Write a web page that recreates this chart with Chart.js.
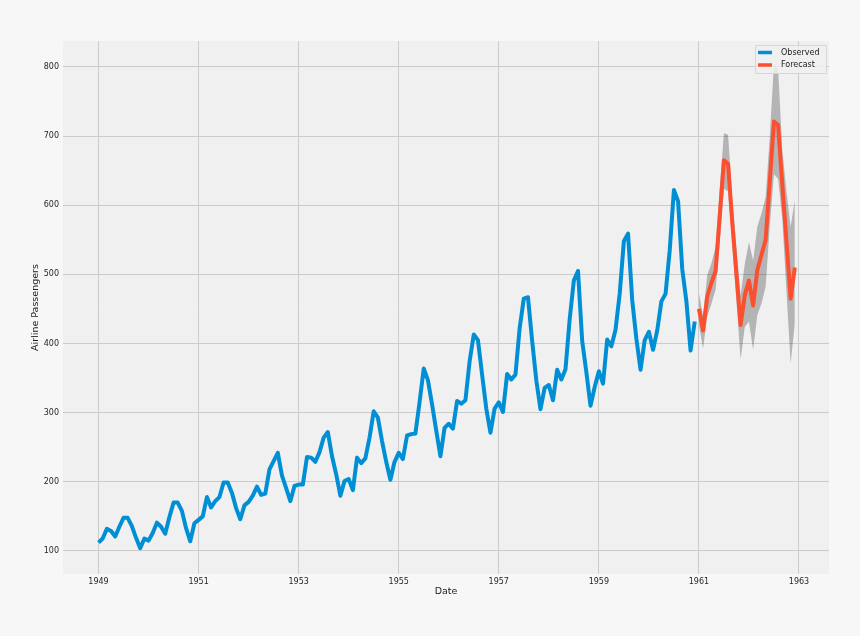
<!DOCTYPE html>
<html>
<head>
<meta charset="utf-8">
<script src="https://cdn.jsdelivr.net/npm/chart.js@4/dist/chart.umd.min.js"></script>
<style>
  html, body { margin: 0; padding: 0; background: #f7f7f7; }
  canvas { display: block; }
</style>
</head>
<body>
<canvas id="c" width="860" height="636"></canvas>
<script>
// ---- data ----
const observedStart = 1949; // January 1949, monthly
const observed = [
  112,118,132,129,121,135,148,148,136,119,104,118,
  115,126,141,135,125,149,170,170,158,133,114,140,
  145,150,178,163,172,178,199,199,184,162,146,166,
  171,180,193,181,183,218,230,242,209,191,172,194,
  196,196,236,235,229,243,264,272,237,211,180,201,
  204,188,235,227,234,264,302,293,259,229,203,229,
  242,233,267,269,270,315,364,347,312,274,237,278,
  284,277,317,313,318,374,413,405,355,306,271,306,
  315,301,356,348,355,422,465,467,404,347,305,336,
  340,318,362,348,363,435,491,505,404,359,310,337,
  360,342,406,396,420,472,548,559,463,407,362,405,
  417,391,419,461,472,535,622,606,508,461,390,432
];
const forecastStart = 1961; // January 1961, monthly
const forecast = [
  450,419,468,488,505,585,665,660,575,500,427,470,
  491,455,506,528,550,635,721,716,630,548,465,510
];
const forecastUpper = [
  473,440,499,516,540,625,704,702,610,540,470,515,
  547,520,569,588,612,700,805,796,680,620,569,608
];
const forecastLower = [
  427,393,439,458,478,545,624,620,545,460,377,424,
  432,391,441,458,482,570,645,638,580,475,371,429
];
const xTicks = [1949,1951,1953,1955,1957,1959,1961,1963];
const yTicks = [100,200,300,400,500,600,700,800];
const seriesLabels = ['Observed','Forecast'];
const seriesColors = ['#008fd5','#fc4f30'];

// ---- helpers ----
const toPoints = (start, arr) => arr.map((v, i) => ({ x: start + i / 12, y: v }));

const bgPlugin = {
  id: 'plotBg',
  beforeDraw(chart) {
    const { ctx, chartArea: a } = chart;
    ctx.save();
    ctx.fillStyle = '#f0f0f0';
    ctx.fillRect(a.left, a.top, a.right - a.left, a.bottom - a.top);
    ctx.restore();
  }
};

const legendPlugin = {
  id: 'boxLegend',
  afterDraw(chart) {
    const { ctx, chartArea: a } = chart;
    const w = 71, h = 28;
    const x0 = a.right - 3 - w, y0 = a.top + 4;
    ctx.save();
    ctx.fillStyle = 'rgba(240,240,240,0.85)';
    ctx.strokeStyle = '#d6d6d6';
    ctx.lineWidth = 1;
    ctx.beginPath();
    ctx.rect(x0 + 0.5, y0 + 0.5, w, h);
    ctx.fill();
    ctx.stroke();
    ctx.font = '8px "DejaVu Sans"';
    ctx.textBaseline = 'middle';
    ctx.textAlign = 'left';
    seriesLabels.forEach((lab, i) => {
      const yy = y0 + 7.5 + i * 12.5;
      ctx.strokeStyle = seriesColors[i];
      ctx.lineWidth = 3.5;
      ctx.beginPath();
      ctx.moveTo(x0 + 3, yy);
      ctx.lineTo(x0 + 17, yy);
      ctx.stroke();
      ctx.fillStyle = '#222222';
      ctx.fillText(lab, x0 + 26, yy);
    });
    ctx.restore();
  }
};

new Chart(document.getElementById('c'), {
  type: 'line',
  data: {
    datasets: [
      {
        label: 'upper',
        data: toPoints(forecastStart, forecastUpper),
        borderWidth: 0,
        pointRadius: 0,
        fill: false,
        order: 3
      },
      {
        label: 'lower',
        data: toPoints(forecastStart, forecastLower),
        borderWidth: 0,
        pointRadius: 0,
        fill: '-1',
        backgroundColor: 'rgba(0,0,0,0.25)',
        order: 2
      },
      {
        label: seriesLabels[0],
        data: toPoints(observedStart, observed),
        borderColor: seriesColors[0],
        borderWidth: 4,
        pointRadius: 0,
        tension: 0,
        borderJoinStyle: 'round',
        fill: false,
        order: 1
      },
      {
        label: seriesLabels[1],
        data: toPoints(forecastStart, forecast),
        borderColor: seriesColors[1],
        borderWidth: 4,
        pointRadius: 0,
        tension: 0,
        borderJoinStyle: 'round',
        fill: false,
        order: 0
      }
    ]
  },
  options: {
    responsive: false,
    devicePixelRatio: 1,
    animation: false,
    layout: { padding: { top: 41, right: 31, left: 0, bottom: 0 } },
    plugins: {
      legend: { display: false },
      tooltip: { enabled: false },
      filler: { drawTime: 'beforeDatasetsDraw' }
    },
    scales: {
      x: {
        type: 'linear',
        min: 1948.29,
        max: 1963.6,
        afterBuildTicks: s => { s.ticks = xTicks.map(v => ({ value: v })); },
        afterFit: s => { s.height = 62; },
        ticks: {
          callback: v => String(v),
          font: { family: 'DejaVu Sans', size: 8 },
          color: '#262626',
          padding: 3,
          maxRotation: 0,
          autoSkip: false
        },
        grid: { color: '#cbcbcb', lineWidth: 1, drawTicks: false },
        border: { display: false },
        title: {
          display: true,
          text: 'Date',
          font: { family: 'DejaVu Sans', size: 9.5 },
          color: '#222222',
          padding: { top: 0, bottom: 39 }
        }
      },
      y: {
        type: 'linear',
        min: 66.7,
        max: 837.6,
        afterBuildTicks: s => { s.ticks = yTicks.map(v => ({ value: v })); },
        afterFit: s => { s.width = 63; },
        ticks: {
          callback: v => String(v),
          font: { family: 'DejaVu Sans', size: 8 },
          color: '#262626',
          padding: 4,
          autoSkip: false
        },
        grid: { color: '#cbcbcb', lineWidth: 1, drawTicks: false },
        border: { display: false },
        title: {
          display: true,
          text: 'Airline Passengers',
          font: { family: 'DejaVu Sans', size: 9.5 },
          color: '#222222',
          padding: { top: 30, bottom: 0 }
        }
      }
    }
  },
  plugins: [bgPlugin, legendPlugin]
});
</script>
</body>
</html>
